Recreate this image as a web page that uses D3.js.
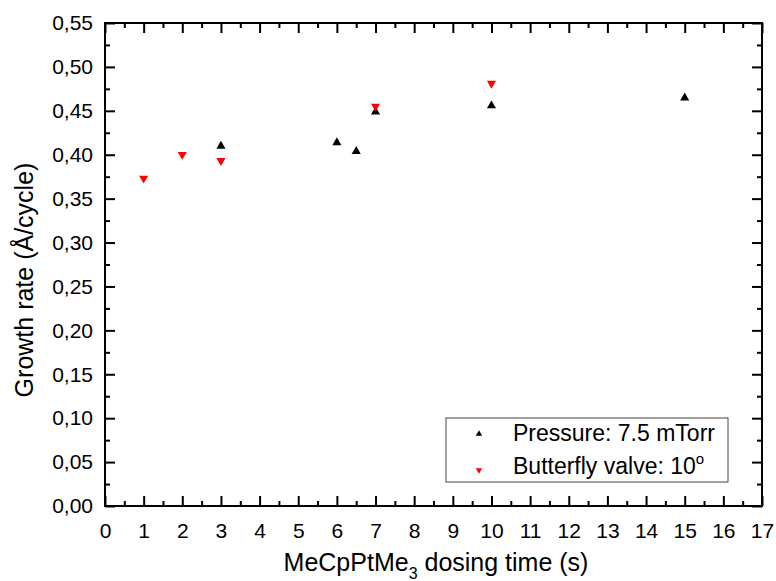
<!DOCTYPE html>
<html>
<head>
<meta charset="utf-8">
<script src="https://cdnjs.cloudflare.com/ajax/libs/d3/7.8.5/d3.min.js"></script>
<style>
  body { margin: 0; background: #fff; }
  svg { font-family: "Liberation Sans", Arial, sans-serif; }
</style>
</head>
<body>
<div id="chart"></div>
<script>
// data
var pressureTime = [3, 6, 6.5, 7, 10, 15];
var pressureRate = [0.411, 0.415, 0.405, 0.450, 0.457, 0.466];
var valveTime = [1, 2, 3, 7, 10];
var valveRate = [0.372, 0.399, 0.392, 0.454, 0.480];
var xTicks = d3.range(0, 18, 1);
var yTicks = d3.range(0, 0.5501, 0.05);

var svgWidth = 776;
var svgHeight = 581;
var margin = { top: 23, right: 14, bottom: 75, left: 105 };
var width = 762 - margin.left;
var height = 506 - margin.top;
var fontFam = "Liberation Sans, Arial, sans-serif";

var svg = d3.select("#chart")
  .append("svg")
  .attr("width", svgWidth)
  .attr("height", svgHeight);

var chartGroup = svg.append("g")
  .attr("transform", `translate(${margin.left}, ${margin.top})`);

var x = d3.scaleLinear().domain([0, 17]).range([0, width]);
var y = d3.scaleLinear().domain([0, 0.55]).range([height, 0]);

var comma = d => d3.format(".2f")(d).replace(".", ",");

// minor ticks on all four sides
var xMinor = d3.range(0.5, 17, 1);
var yMinor = d3.range(0.025, 0.55, 0.05);

function ticks(g, axis) {
  g.call(axis);
  g.select(".domain").remove();
  g.selectAll(".tick line").attr("stroke", "#000").attr("stroke-width", 2);
}

// bottom
chartGroup.append("g").attr("transform", `translate(0, ${height})`)
  .call(g => ticks(g, d3.axisBottom(x).tickValues(xTicks).tickSize(-10).tickPadding(17).tickFormat(d3.format("d"))))
  .selectAll("text").attr("font-size", 21).attr("fill", "#000").attr("font-family", fontFam);
chartGroup.append("g").attr("transform", `translate(0, ${height})`)
  .call(g => ticks(g, d3.axisBottom(x).tickValues(xMinor).tickSize(-5).tickFormat("")));
// top
chartGroup.append("g")
  .call(g => ticks(g, d3.axisTop(x).tickValues(xTicks).tickSize(-10).tickFormat("")));
chartGroup.append("g")
  .call(g => ticks(g, d3.axisTop(x).tickValues(xMinor).tickSize(-5).tickFormat("")));
// left
chartGroup.append("g")
  .call(g => ticks(g, d3.axisLeft(y).tickValues(yTicks).tickSize(-10).tickPadding(12).tickFormat(comma)))
  .selectAll("text").attr("font-size", 21).attr("fill", "#000").attr("font-family", fontFam);
chartGroup.append("g")
  .call(g => ticks(g, d3.axisLeft(y).tickValues(yMinor).tickSize(-5).tickFormat("")));
// right
chartGroup.append("g").attr("transform", `translate(${width}, 0)`)
  .call(g => ticks(g, d3.axisRight(y).tickValues(yTicks).tickSize(-10).tickFormat("")));
chartGroup.append("g").attr("transform", `translate(${width}, 0)`)
  .call(g => ticks(g, d3.axisRight(y).tickValues(yMinor).tickSize(-5).tickFormat("")));

// frame
chartGroup.append("rect")
  .attr("width", width)
  .attr("height", height)
  .attr("fill", "none")
  .attr("stroke", "#000")
  .attr("stroke-width", 2);

// markers
var upTri = d3.symbol().type(d3.symbolTriangle).size(36);
var pressure = pressureTime.map((t, i) => ({ t: t, r: pressureRate[i] }));
var valve = valveTime.map((t, i) => ({ t: t, r: valveRate[i] }));

chartGroup.selectAll(".up")
  .data(pressure)
  .enter()
  .append("path")
  .attr("d", upTri)
  .attr("transform", d => `translate(${x(d.t)}, ${y(d.r) + 1})`)
  .attr("fill", "#000");

chartGroup.selectAll(".down")
  .data(valve)
  .enter()
  .append("path")
  .attr("d", upTri)
  .attr("transform", d => `translate(${x(d.t)}, ${y(d.r) - 1}) rotate(180)`)
  .attr("fill", "#ff0000");

// legend
var legend = svg.append("g").attr("transform", "translate(446, 418)");
legend.append("rect")
  .attr("width", 282)
  .attr("height", 64)
  .attr("fill", "#fff")
  .attr("stroke", "#444")
  .attr("stroke-width", 1);

var smallTri = d3.symbol().type(d3.symbolTriangle).size(18);
legend.append("path").attr("d", smallTri)
  .attr("transform", "translate(33, 16)").attr("fill", "#000");
legend.append("path").attr("d", smallTri)
  .attr("transform", "translate(33, 52) rotate(180)").attr("fill", "#ff0000");

legend.append("text")
  .attr("x", 67).attr("y", 23)
  .attr("font-size", 23)
  .text("Pressure: 7.5 mTorr");
var lt = legend.append("text")
  .attr("x", 67).attr("y", 56)
  .attr("font-size", 23)
  .text("Butterfly valve: 10");
lt.append("tspan").attr("dy", -10).attr("font-size", 15).text("o");

// axis titles
svg.append("text")
  .attr("transform", `translate(33, 280) rotate(-90)`)
  .attr("text-anchor", "middle")
  .attr("font-size", 25)
  .text("Growth rate (Å/cycle)");

var xt = svg.append("text")
  .attr("x", 436)
  .attr("y", 571)
  .attr("text-anchor", "middle")
  .attr("font-size", 25)
  .text("MeCpPtMe");
xt.append("tspan").attr("dy", 8).attr("font-size", 16).text("3");
xt.append("tspan").attr("dy", -8).text(" dosing time (s)");
</script>
</body>
</html>
